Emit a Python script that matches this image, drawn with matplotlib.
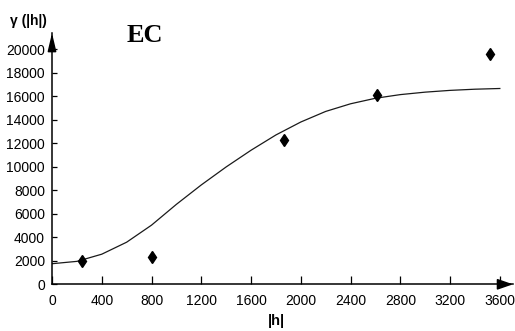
import matplotlib

matplotlib.use("Agg")
import matplotlib.pyplot as plt

# experimental variogram points
LAG = [245, 800, 1865, 2612, 3518]
GAMMA = [2000, 2350, 12300, 16100, 19550]

# fitted model curve
MODEL_H = [0, 200, 400, 600, 800, 1000, 1200, 1400, 1600, 1800,
           2000, 2200, 2400, 2600, 2800, 3000, 3200, 3400, 3600]
MODEL_G = [1750, 1950, 2560, 3580, 5030, 6800, 8450, 9980, 11400, 12700,
           13800, 14700, 15350, 15820, 16130, 16340, 16490, 16590, 16650]

X_TICKS = [0, 400, 800, 1200, 1600, 2000, 2400, 2800, 3200, 3600]
Y_TICKS = [0, 2000, 4000, 6000, 8000, 10000, 12000, 14000, 16000, 18000, 20000]


def main():
    plt.rcParams["font.family"] = ["Liberation Sans", "DejaVu Sans"]

    W, H = 515, 331
    fig = plt.figure(figsize=(W / 100, H / 100), dpi=100)
    x0, x1 = 52, 513
    y0, y1 = 284.3, 33
    ax = fig.add_axes([x0 / W, 1 - y0 / H, (x1 - x0) / W, (y0 - y1) / H])

    ax.set_xlim(0, (x1 - x0) / 0.1244)
    ax.set_ylim(0, (y0 - y1) / 0.01176)

    ax.plot(MODEL_H, MODEL_G, color="#1a1a1a", linewidth=0.9)
    ax.plot(LAG, GAMMA, linestyle="none", marker="d", markersize=6.5,
            color="black")

    for s in ["top", "right"]:
        ax.spines[s].set_visible(False)
    for s in ["left", "bottom"]:
        ax.spines[s].set_linewidth(1.1)

    # arrow heads at the axis ends
    ax.annotate("", xy=(1, 0), xytext=(0.97, 0), xycoords="axes fraction",
                arrowprops=dict(arrowstyle="-|>,head_length=0.95,head_width=0.33",
                                color="black", lw=1.1, mutation_scale=10,
                                shrinkA=0, shrinkB=0))
    ax.annotate("", xy=(0, 1), xytext=(0, 0.95), xycoords="axes fraction",
                arrowprops=dict(arrowstyle="-|>,head_length=1.1,head_width=0.26",
                                color="black", lw=1.1, mutation_scale=10,
                                shrinkA=0, shrinkB=0))

    ax.set_xticks(X_TICKS)
    ax.set_yticks(Y_TICKS)
    ax.tick_params(axis="x", direction="in", length=5.5, width=0.9,
                   labelsize=10, pad=7)
    ax.tick_params(axis="y", direction="in", length=3.5, width=0.9,
                   labelsize=10, pad=5)

    fig.text(28 / W, 1 - 21 / H, "γ (|h|)", ha="center", va="center",
             fontsize=10, fontweight="bold")
    fig.text(276 / W, 1 - 321 / H, "|h|", ha="center", va="center",
             fontsize=10.5, fontweight="bold")
    fig.text(145 / W, 1 - 36 / H, "EC", ha="center", va="center",
             fontsize=19, fontweight="bold", family="Liberation Serif")

    fig.savefig("out.png", dpi=100)


if __name__ == "__main__":
    main()
